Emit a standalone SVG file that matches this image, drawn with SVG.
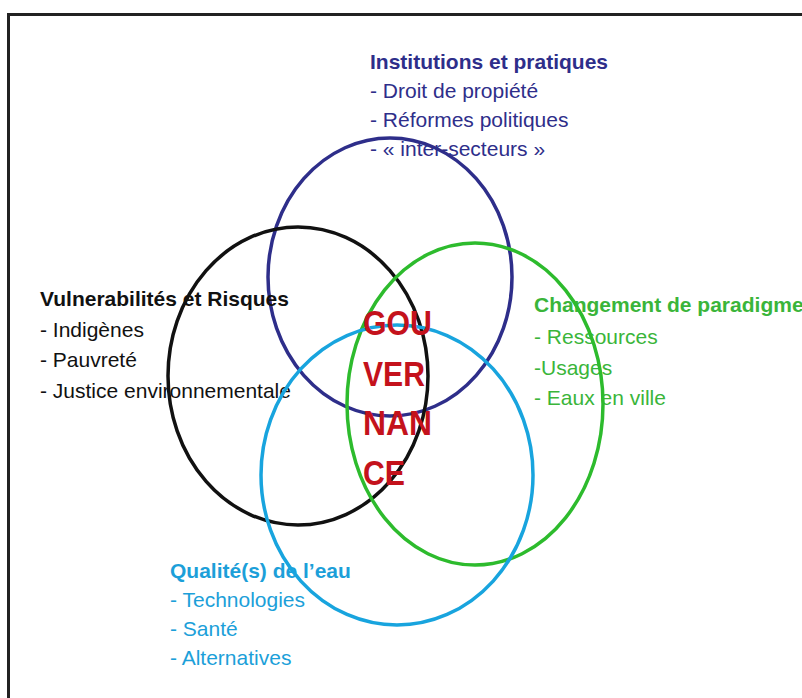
<svg xmlns="http://www.w3.org/2000/svg" width="802" height="698" viewBox="0 0 802 698">
<style>
  text { font-family: "Liberation Sans", Arial, sans-serif; font-size: 21px; }
  .t { font-weight: bold; }
  .ring { fill: none; stroke-width: 3.5; }
  .navy { fill: #2e2e8a; }
  .blk { fill: #111111; }
  .grn { fill: #3ab53a; }
  .cyn { fill: #1c9fd9; }
  .gov { fill: #c4121c; font-weight: bold; font-size: 35px; }
</style>
<rect x="0" y="0" width="802" height="698" fill="#ffffff"/>
<path d="M8.5 698 V14.5 H802" fill="none" stroke="#222222" stroke-width="3"/>

<g id="node-institutions">
  <text class="navy t" x="370" y="69">Institutions et pratiques</text>
  <text class="navy" x="370" y="98">- Droit de propiété</text>
  <text class="navy" x="370" y="127">- Réformes politiques</text>
  <text class="navy" x="370" y="156">- « inter-secteurs »</text>
  <ellipse class="ring" cx="390" cy="277" rx="122" ry="139" stroke="#2e2e8a"/>
</g>

<g id="node-vulnerabilites">
  <text class="blk t" x="40" y="306">Vulnerabilités et Risques</text>
  <text class="blk" x="40" y="337">- Indigènes</text>
  <text class="blk" x="40" y="367">- Pauvreté</text>
  <text class="blk" x="40" y="398">- Justice environnementale</text>
  <ellipse class="ring" cx="298" cy="376" rx="130" ry="149" stroke="#111111"/>
</g>

<g id="node-changement">
  <text class="grn t" x="534" y="312">Changement de paradigme</text>
  <text class="grn" x="534" y="344">- Ressources</text>
  <text class="grn" x="534" y="375">-Usages</text>
  <text class="grn" x="534" y="405">- Eaux en ville</text>
  <ellipse class="ring" cx="475" cy="404" rx="128" ry="161" stroke="#2dbb2d"/>
</g>

<g id="node-qualite">
  <text class="cyn t" x="170" y="578">Qualité(s) de l’eau</text>
  <text class="cyn" x="170" y="607">- Technologies</text>
  <text class="cyn" x="170" y="636">- Santé</text>
  <text class="cyn" x="170" y="665">- Alternatives</text>
  <ellipse class="ring" cx="397" cy="475" rx="136" ry="150" stroke="#18a4de"/>
</g>

<g id="node-gouvernance">
  <text class="gov" x="363" y="335" textLength="69" lengthAdjust="spacingAndGlyphs">GOU</text>
  <text class="gov" x="363" y="386" textLength="62" lengthAdjust="spacingAndGlyphs">VER</text>
  <text class="gov" x="363" y="435" textLength="69" lengthAdjust="spacingAndGlyphs">NAN</text>
  <text class="gov" x="363" y="485" textLength="42" lengthAdjust="spacingAndGlyphs">CE</text>
</g>
</svg>
